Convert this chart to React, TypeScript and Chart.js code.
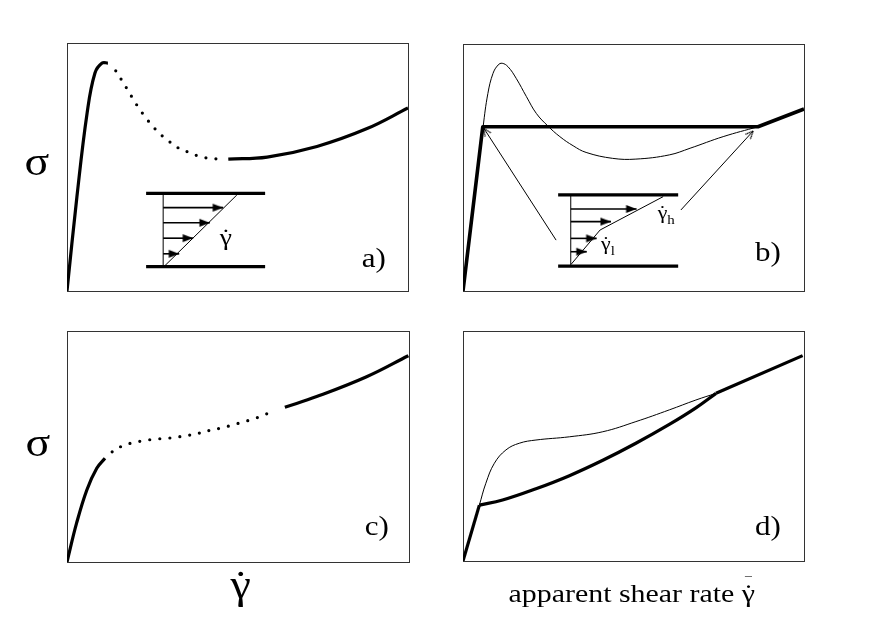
import React, { useEffect, useRef } from 'react';
import { Chart, registerables } from 'chart.js';

Chart.register(...registerables);

type P = { x: number; y: number };
const pts = (arr: number[][]): P[] => arr.map(([x, y]) => ({ x, y }));

// ---------- Panel a) : non-monotonic flow curve ----------
const aRise = pts([[0, 0], [2.9, 37.9], [5.9, 71.8], [8.2, 87.9], [10.3, 91.9], [12.0, 91.9]]);
const aUnstable = pts([
  [14.3, 88.8], [16.0, 85.1], [17.7, 81.3], [19.4, 77.4], [21.1, 73.7], [23.1, 69.9], [25.1, 66.5],
  [27.4, 63.2], [29.8, 60.5], [32.5, 57.8], [35.6, 56.0], [38.6, 54.4], [41.7, 53.5], [44.8, 53.2],
]);
const aHigh = pts([[47.3, 53.2], [58.7, 54.0], [73.3, 58.3], [88.0, 65.5], [100, 73.8]]);
const aPlateTop = pts([[23.2, 39.4], [58.1, 39.4]]);
const aPlateBottom = pts([[23.2, 9.8], [58.1, 9.8]]);
const aWall = pts([[28.2, 9.8], [28.2, 39.4]]);
const aProfile = pts([[28.4, 9.8], [49.8, 38.7]]);
const aArrowStartX = 28.2;
const aArrowY = [33.6, 27.5, 21.3, 15.0];
const aArrowTipX = [45.8, 41.9, 37.0, 32.9];

// ---------- Panel b) : shear banding ----------
const bThick = pts([[0, 0], [5.8, 66.5], [86.5, 66.5], [100, 73.7]]);
const bThin = pts([
  [0, 0], [5.9, 66.5], [7.3, 80.0], [8.8, 88.1], [10.3, 91.5], [11.5, 92.2], [13.2, 90.8], [15.6, 86.1],
  [18.6, 78.7], [21.5, 71.9], [24.9, 66.8], [28.4, 62.5], [32.3, 58.8], [36.1, 56.1], [43.9, 53.7],
  [50.7, 53.4], [60.5, 55.1], [66.6, 57.8], [76.3, 62.5], [86.5, 66.5],
]);
const bPlateTop = pts([[27.9, 38.9], [63.1, 38.9]]);
const bPlateBottom = pts([[27.9, 10.1], [63.1, 10.1]]);
const bWall = pts([[31.6, 10.1], [31.6, 38.9]]);
const bProfile = pts([[31.7, 10.8], [40.2, 24.7], [58.7, 38.2]]);
const bArrowStartX = 31.6;
const bArrowY = [33.2, 28.1, 21.3, 15.9];
const bArrowTipX = [50.9, 43.4, 39.2, 36.3];
const bLowPointer = pts([[27.3, 20.6], [6.1, 65.9]]);
const bHighPointer = pts([[63.9, 32.8], [85.1, 64.8]]);

// ---------- Panel c) : monotonic curve with unstable region ----------
const cRise = pts([[0, 0], [2.8, 16.8], [5.8, 31.2], [8.7, 40.6], [11.1, 44.9]]);
const cUnstable = pts([
  [13.2, 47.7], [16.1, 50.2], [19.2, 51.6], [22.4, 52.5], [25.7, 53.2], [28.9, 53.5], [32.2, 54.1],
  [35.4, 54.8], [38.6, 55.8], [41.8, 57.0], [45.0, 58.0], [48.2, 59.2], [51.4, 60.6], [54.5, 61.9],
  [57.5, 63.6], [60.5, 65.4],
]);
const cHigh = pts([[63.7, 67.0], [73.0, 71.6], [87.6, 80.2], [99.8, 89.3]]);

// ---------- Panel d) : apparent flow curve ----------
const dRise = pts([[0, 0], [4.8, 24.3]]);
const dThick = pts([
  [4.8, 24.3], [11.6, 26.5], [21.4, 31.4], [31.2, 37.1], [41.0, 43.8], [50.7, 51.2], [60.5, 59.4],
  [68.3, 66.6], [74.2, 72.9],
]);
const dUpper = pts([[74.2, 72.9], [99.6, 89.3]]);
const dThin = pts([
  [4.8, 24.3], [6.7, 33.8], [9.2, 42.5], [12.6, 48.3], [16.5, 51.2], [21.4, 52.6], [31.2, 54.0],
  [41.0, 56.2], [50.7, 60.6], [60.5, 65.7], [68.3, 70.0], [74.2, 72.9],
]);

// ---------- Text ----------
type Label = { x: number; y: number; text?: string; size: number; gamma?: boolean; prefix?: string; sub?: string; bar?: boolean };
const sigma = 'σ';
const aLabels: Label[] = [
  { x: -8.8, y: 46.6, text: sigma, size: 40 },
  { x: 90.0, y: 9.7, text: 'a)', size: 27 },
  { x: 46.6, y: 18.7, gamma: true, size: 24 },
];
const bLabels: Label[] = [
  { x: 89.4, y: 12.1, text: 'b)', size: 27 },
  { x: 58.5, y: 29.0, gamma: true, sub: 'h', size: 19 },
  { x: 41.9, y: 16.6, gamma: true, sub: 'l', size: 19 },
];
const cLabels: Label[] = [
  { x: -8.5, y: 45.7, text: sigma, size: 40 },
  { x: 90.6, y: 11.7, text: 'c)', size: 27 },
  { x: 50.8, y: -15.6, gamma: true, size: 40 },
];
const dLabels: Label[] = [
  { x: 89.4, y: 11.3, text: 'd)', size: 27 },
  { x: 49.5, y: -17.8, gamma: true, prefix: 'apparent shear rate ', bar: true, size: 26 },
];

const SERIF = '"Liberation Serif", "Times New Roman", serif';
const STRETCH = 1.15;

function makeHead(open: boolean): HTMLCanvasElement {
  const c = document.createElement('canvas');
  c.width = 26; c.height = 26;
  const g = c.getContext('2d')!;
  g.strokeStyle = '#000'; g.fillStyle = '#000';
  if (open) {
    g.lineWidth = 1;
    g.beginPath(); g.moveTo(5, 9.5); g.lineTo(13, 13); g.lineTo(5, 16.5); g.stroke();
  } else {
    g.beginPath(); g.moveTo(13, 13); g.lineTo(2.5, 9); g.lineTo(2.5, 17); g.closePath(); g.fill();
  }
  return c;
}

const arrowRotation = (c: any) => {
  const data = c.dataset.data as P[];
  const i = c.dataIndex;
  if (!i) return 0;
  const sx = c.chart.scales.x, sy = c.chart.scales.y;
  const a = data[i - 1], b = data[i];
  return (Math.atan2(sy.getPixelForValue(b.y) - sy.getPixelForValue(a.y), sx.getPixelForValue(b.x) - sx.getPixelForValue(a.x)) * 180) / Math.PI;
};

const line = (data: P[], width: number, smooth = true) => ({
  data,
  borderColor: '#000',
  borderWidth: width,
  pointRadius: 0,
  fill: false,
  tension: smooth ? 0.4 : 0,
  borderCapStyle: 'butt',
  borderJoinStyle: 'round',
});
const dotted = (data: P[]) => ({ ...line(data, 3.2), borderDash: [0, 10], borderCapStyle: 'round' });
const arrow = (data: P[], width: number, head: HTMLCanvasElement) => ({
  ...line(data, width, false),
  pointStyle: head,
  pointRadius: (c: any) => (c.dataIndex === c.dataset.data.length - 1 ? 5 : 0),
  pointRotation: arrowRotation,
});
const arrowRows = (startX: number, ys: number[], tips: number[], head: HTMLCanvasElement) =>
  ys.map((y, i) => arrow([{ x: startX, y }, { x: tips[i], y }], 1.6, head));

function drawLabel(ctx: CanvasRenderingContext2D, px: number, py: number, L: Label) {
  ctx.save();
  ctx.translate(px, py);
  ctx.scale(STRETCH, 1);
  ctx.fillStyle = '#000';
  ctx.textBaseline = 'alphabetic';
  ctx.font = `${L.size}px ${SERIF}`;
  if (L.gamma) {
    const prefix = L.prefix || '';
    const full = prefix + 'γ';
    const w = ctx.measureText(full).width;
    const left = -w / 2;
    ctx.textAlign = 'left';
    ctx.fillText(full, left, 0);
    const pw = prefix ? ctx.measureText(prefix).width : 0;
    const gw = ctx.measureText('γ').width;
    const gx = left + pw + gw / 2;
    ctx.textAlign = 'center';
    ctx.fillText('˙', gx, 0);
    if (L.bar) {
      ctx.font = `${Math.round(L.size * 0.45)}px ${SERIF}`;
      ctx.fillText('¯', gx, -L.size * 0.62);
    }
    if (L.sub) {
      ctx.font = `${Math.round(L.size * 0.7)}px ${SERIF}`;
      ctx.textAlign = 'left';
      ctx.fillText(L.sub, left + gw, L.size * 0.25);
    }
  } else {
    ctx.textAlign = 'center';
    ctx.fillText(L.text || '', 0, 0);
  }
  ctx.restore();
}

const decor = (labels: Label[]) => ({
  id: 'panelDecor',
  beforeDatasetsDraw(chart: any) {
    const { ctx, chartArea: a } = chart;
    ctx.save();
    ctx.strokeStyle = '#333';
    ctx.lineWidth = 1;
    ctx.strokeRect(Math.round(a.left) + 0.5, Math.round(a.top) + 0.5, Math.round(a.right - a.left), Math.round(a.bottom - a.top));
    ctx.restore();
  },
  afterDatasetsDraw(chart: any) {
    const { ctx } = chart;
    const sx = chart.scales.x, sy = chart.scales.y;
    labels.forEach((L) => drawLabel(ctx, sx.getPixelForValue(L.x), sy.getPixelForValue(L.y), L));
  },
});

type PanelSpec = {
  left: number; top: number; w: number; h: number;
  pad: { left: number; top: number; right: number; bottom: number };
  datasets: () => any[];
  labels: Label[];
};

function Panel({ spec }: { spec: PanelSpec }) {
  const ref = useRef<HTMLCanvasElement>(null);
  useEffect(() => {
    if (!ref.current) return;
    const chart = new Chart(ref.current, {
      type: 'line',
      data: { datasets: spec.datasets() as any },
      options: {
        responsive: false,
        animation: false,
        events: [],
        layout: { padding: spec.pad },
        plugins: { legend: { display: false }, tooltip: { enabled: false } },
        scales: {
          x: { type: 'linear', min: 0, max: 100, display: false },
          y: { type: 'linear', min: 0, max: 100, display: false },
        },
      },
      plugins: [decor(spec.labels)],
    });
    return () => chart.destroy();
  }, [spec]);
  return (
    <canvas
      ref={ref}
      width={spec.w}
      height={spec.h}
      style={{ position: 'absolute', left: spec.left, top: spec.top, width: spec.w, height: spec.h }}
    />
  );
}

const panels: PanelSpec[] = [
  {
    left: 0, top: 0, w: 436, h: 311,
    pad: { left: 67, top: 43, right: 28, bottom: 20 },
    labels: aLabels,
    datasets: () => {
      const head = makeHead(false);
      return [
        line(aRise, 3.2), dotted(aUnstable), line(aHigh, 3.2),
        line(aPlateTop, 3.2, false), line(aPlateBottom, 3.2, false),
        line(aWall, 1, false), line(aProfile, 1, false),
        ...arrowRows(aArrowStartX, aArrowY, aArrowTipX, head),
      ];
    },
  },
  {
    left: 436, top: 0, w: 436, h: 311,
    pad: { left: 27, top: 44, right: 68, bottom: 20 },
    labels: bLabels,
    datasets: () => {
      const head = makeHead(false);
      const open = makeHead(true);
      return [
        line(bThin, 1), line(bThick, 3.6, false),
        line(bPlateTop, 3.2, false), line(bPlateBottom, 3.2, false),
        line(bWall, 1, false), line(bProfile, 1, false),
        ...arrowRows(bArrowStartX, bArrowY, bArrowTipX, head),
        arrow(bLowPointer, 1, open), arrow(bHighPointer, 1, open),
      ];
    },
  },
  {
    left: 0, top: 311, w: 436, h: 312,
    pad: { left: 67, top: 20, right: 27, bottom: 61 },
    labels: cLabels,
    datasets: () => [line(cRise, 3.2), dotted(cUnstable), line(cHigh, 3.2)],
  },
  {
    left: 436, top: 311, w: 436, h: 312,
    pad: { left: 27, top: 20, right: 68, bottom: 62 },
    labels: dLabels,
    datasets: () => [line(dThin, 1), line(dRise, 3.2, false), line(dThick, 3.2), line(dUpper, 3.2, false)],
  },
];

export default function App() {
  return (
    <div style={{ position: 'absolute', left: 0, top: 0, width: 872, height: 623, background: '#fff', overflow: 'hidden' }}>
      {panels.map((p, i) => (
        <Panel key={i} spec={p} />
      ))}
    </div>
  );
}
